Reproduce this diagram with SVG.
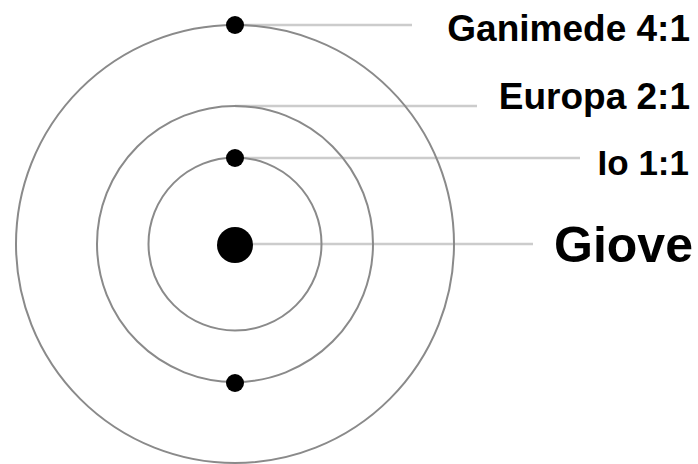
<svg xmlns="http://www.w3.org/2000/svg" width="698" height="464" viewBox="0 0 698 464">
<style>
.orbit{fill:none;stroke:#8a8a8a;stroke-width:2}
.lead{stroke:#cccccc;stroke-width:2.5}
.dot{fill:#000}
.lbl{font-family:"Liberation Sans",Arial,sans-serif;font-weight:bold;fill:#000;text-anchor:end}
</style>
<rect width="698" height="464" fill="#fff"/>
<g id="connectors">
<line class="lead" x1="235" y1="25" x2="412" y2="25"/>
<line class="lead" x1="235" y1="106" x2="477" y2="106"/>
<line class="lead" x1="235" y1="158" x2="580" y2="158"/>
<line class="lead" x1="235" y1="244" x2="533" y2="244"/>
</g>
<g id="orbits">
<circle class="orbit" cx="235" cy="244" r="219"/>
<circle class="orbit" cx="235" cy="244" r="138"/>
<circle class="orbit" cx="235" cy="244" r="86.5"/>
</g>
<g id="giove">
<circle class="dot" cx="235" cy="245" r="18"/>
<text class="lbl" x="693" y="262" font-size="50">Giove</text>
</g>
<g id="ganimede">
<circle class="dot" cx="235" cy="25" r="9"/>
<text class="lbl" x="690" y="41" font-size="37">Ganimede 4:1</text>
</g>
<g id="europa">
<circle class="dot" cx="235" cy="383" r="9"/>
<text class="lbl" x="690" y="109" font-size="37">Europa 2:1</text>
</g>
<g id="io">
<circle class="dot" cx="235" cy="158" r="9"/>
<text class="lbl" x="689" y="175" font-size="35">Io 1:1</text>
</g>
</svg>
